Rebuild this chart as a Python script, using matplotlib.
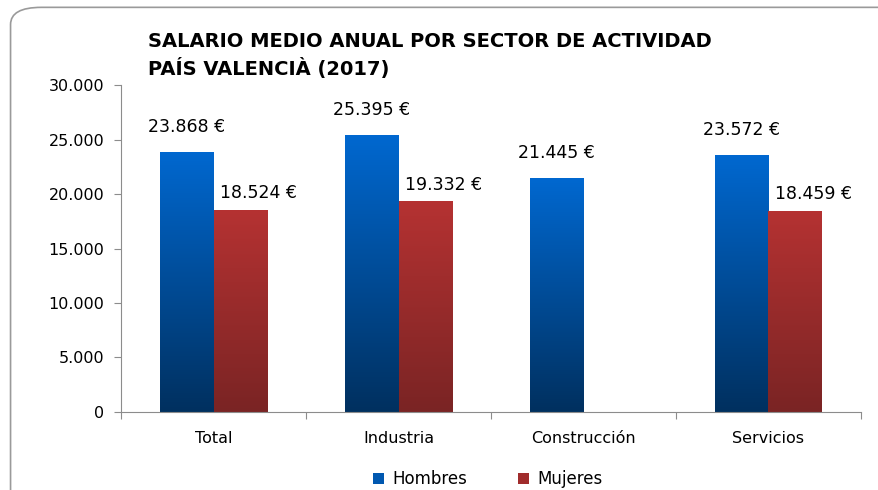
import numpy as np
import matplotlib.pyplot as plt
from matplotlib.colors import LinearSegmentedColormap
from matplotlib.patches import FancyBboxPatch, Patch

categories = ['Total', 'Industria', 'Construcción', 'Servicios']
hombres = [23868, 25395, 21445, 23572]
mujeres = [18524, 19332, None, 18459]
yticks = [0, 5000, 10000, 15000, 20000, 25000, 30000]
ytick_labels = ['0', '5.000', '10.000', '15.000', '20.000', '25.000', '30.000']

plt.rcParams['font.family'] = ['DejaVu Sans']

blue_cmap = LinearSegmentedColormap.from_list('b', ['#00305f', '#0068d0'])
red_cmap = LinearSegmentedColormap.from_list('r', ['#7a2424', '#b53232'])


def fmt(v):
    return '{:,}'.format(v).replace(',', '.') + ' €'


def gradient_bar(ax, x, h, w, cmap):
    bar = ax.bar(x, h, w, color='none', edgecolor='none', align='edge')[0]
    grad = np.linspace(0, 1, 256).reshape(-1, 1)
    im = ax.imshow(grad, cmap=cmap, origin='lower', aspect='auto',
                   extent=[x, x + w, 0, h], zorder=2)
    im.set_clip_path(bar)


fig = plt.figure(figsize=(8.79, 4.9), dpi=100)
fig.patches.append(FancyBboxPatch((0.012, -0.05), 1.05, 1.035,
                                  boxstyle='round,pad=0,rounding_size=0.035',
                                  transform=fig.transFigure, facecolor='white',
                                  edgecolor='#9a9a9a', linewidth=1.2, zorder=-1))

ax = fig.add_axes([0.1377, 0.1592, 0.8418, 0.6673])
ax.patch.set_alpha(0)

w = 0.29
for i, cat in enumerate(categories):
    c = i + 0.5
    gradient_bar(ax, c - w, hombres[i], w, blue_cmap)
    ax.annotate(fmt(hombres[i]), (c - w / 2, hombres[i]), xytext=(0, 18),
                textcoords='offset points', ha='center', va='center', fontsize=12.5)
    if mujeres[i] is not None:
        gradient_bar(ax, c, mujeres[i], w, red_cmap)
        ax.annotate(fmt(mujeres[i]), (c + w / 2, mujeres[i]), xytext=(13, 12),
                    textcoords='offset points', ha='center', va='center', fontsize=12.5)

ax.set_xlim(0, 4)
ax.set_ylim(0, 30000)
ax.set_yticks(yticks)
ax.set_yticklabels(ytick_labels, fontsize=11.5)
ax.set_xticks([0, 1, 2, 3, 4])
ax.set_xticklabels([])
ax.set_xticks([0.5, 1.5, 2.5, 3.5], minor=True)
ax.set_xticklabels(categories, minor=True, fontsize=11.5)
ax.tick_params(axis='x', which='minor', length=0, pad=14)
ax.tick_params(axis='x', which='major', length=5, color='#8c8c8c')
ax.tick_params(axis='y', length=5, color='#8c8c8c', pad=7)
for s in ['top', 'right']:
    ax.spines[s].set_visible(False)
for s in ['left', 'bottom']:
    ax.spines[s].set_color('#8c8c8c')

fig.text(0.168, 0.886, 'SALARIO MEDIO ANUAL POR SECTOR DE ACTIVIDAD\nPAÍS VALENCIÀ (2017)',
         fontsize=14, fontweight='bold', ha='left', va='center', linespacing=1.4)

handles = [Patch(facecolor='#0058b0', label='Hombres'),
           Patch(facecolor='#a02c2c', label='Mujeres')]
fig.legend(handles=handles, loc='center', bbox_to_anchor=(0.555, 0.022), ncol=2,
           frameon=False, fontsize=12, handlelength=0.7, handleheight=0.7,
           handletextpad=0.5, columnspacing=3)

fig.savefig('out.png', dpi=100)
